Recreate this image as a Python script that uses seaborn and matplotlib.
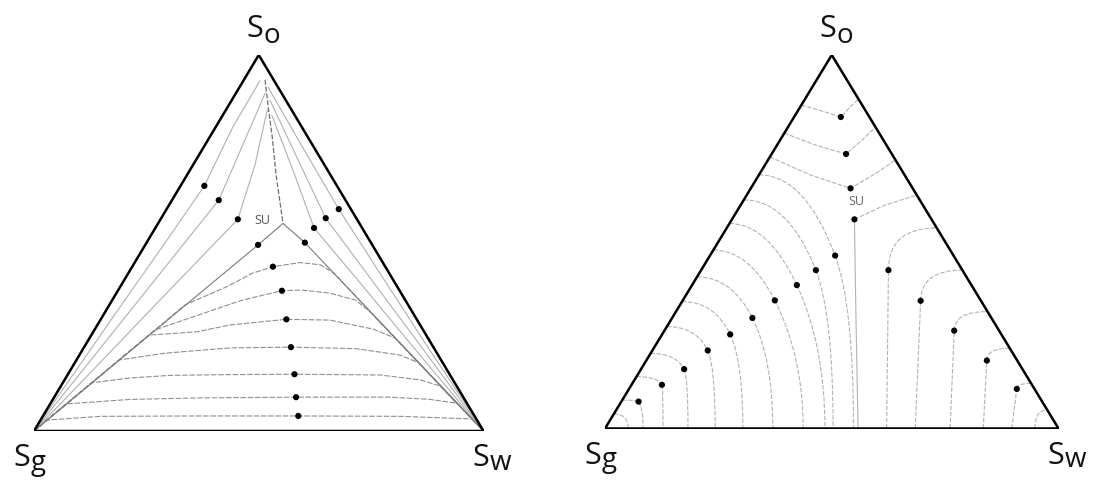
import numpy as np
import matplotlib
matplotlib.use("Agg")
import matplotlib.pyplot as plt
from matplotlib.path import Path
from matplotlib.patches import PathPatch
import seaborn as sns

sns.set_theme(style="white")
plt.rcParams["font.family"] = ["Open Sans", "DejaVu Sans"]

# Saturations: So = oil, Sw = water, Sg = 1 - So - Sw

# ---------------- Left diagram ----------------
left_su = (0.552, 0.278)

# dome-shaped isoperms between the Sg and Sw corners
left_dome_so = [
    [0, .335, .383, .420, .437, .448, .442, .420, 0],
    [0, .269, .301, .348, .373, .375, .367, .348, .317, 0],
    [0, .255, .264, .282, .297, .295, .271, .247, 0],
    [0, .189, .207, .221, .223, .219, .202, .181, 0],
    [0, .128, .141, .148, .150, .151, .149, .136, .120, 0],
    [0, .072, .084, .088, .090, .090, .084, .074, 0],
    [0, .029, .039, .040, .040, .039, .032, 0],
]
left_dome_sw = [
    [0, .168, .236, .277, .313, .368, .416, .457, 1],
    [0, .135, .197, .289, .365, .407, .473, .542, .589, 1],
    [0, .128, .231, .295, .413, .511, .619, .680, 1],
    [0, .095, .188, .326, .460, .607, .713, .766, 1],
    [0, .063, .143, .229, .361, .504, .695, .791, .843, 1],
    [0, .035, .172, .325, .538, .747, .839, .904, 1],
    [0, .014, .128, .349, .568, .795, .959, 1],
]

# isoperms from the So corner down to the Sg corner
left_upper_l_so = [
    [.931, .809, .652, .508, .348, .189, 0],
    [.899, .761, .614, .508, .348, .176, 0],
    [.854, .707, .563, .508, .348, .168, 0],
]
left_upper_l_sw = [
    [.037, .038, .053, .042, .028, .015, 0],
    [.065, .084, .104, .086, .059, .030, 0],
    [.092, .138, .172, .155, .106, .052, 0],
]

# isoperms from the So corner down to the Sw corner
left_upper_r_so = [
    [.915, .766, .590, .428, .215, 0],
    [.880, .721, .566, .402, .229, 0],
    [.840, .694, .540, .402, .215, 0],
]
left_upper_r_sw = [
    [.063, .209, .383, .551, .773, 1],
    [.085, .227, .366, .550, .744, 1],
    [.109, .229, .353, .519, .742, 1],
]

# ridge through the umbilic point, and the line up to the So corner
left_ridge_so = [0, .495, .552, .501, 0]
left_ridge_sw = [0, .251, .278, .352, 1]
left_top_so = [.934, .862, .782, .681, .552]
left_top_sw = [.047, .090, .139, .198, .278]

# marked points
left_pts_so = [.652, .614, .563, .495, .590, .566, .540, .501,
               .437, .373, .297, .223, .151, .090, .040]
left_pts_sw = [.053, .104, .172, .251, .383, .366, .353, .352,
               .313, .365, .413, .460, .504, .538, .568]

# ---------------- Right diagram ----------------
right_su = (0.607, 0.250)

# V-shaped isoperms around the So corner
right_top_so = [
    [.866, .850, .834, .861, .882],
    [.791, .759, .735, .772, .807],
    [.727, .679, .643, .687, .719],
    [.560, .598, .625],
]
right_top_sw = [
    [0, .054, .103, .110, .118],
    [0, .084, .164, .181, .193],
    [0, .113, .220, .259, .281],
    [.270, .318, .375],
]

# arcs around the Sg corner: So where they leave the Sg-So edge,
# the knee point, and Sw where they reach the Sg-Sw edge
gas_edge_so = [.039, .076, .139, .201, .273, .340, .406, .478, .549, .612, .679]
gas_knee_so = [None, .072, .117, .159, .209, .252, .296, .343, .384, .424, .463]
gas_knee_sw = [None, .038, .067, .095, .122, .150, .177, .203, .231, .253, .276]
gas_base_sw = [.051, .084, .128, .183, .243, .304, .370, .437, .485, .503, .548]

# arcs around the Sw corner: Sw at the Sg-Sw edge, the knee point,
# and So where they reach the So-Sw edge
water_base_sw = [.621, .684, .761, .834, .897, .948]
water_knee_so = [.424, .342, .262, .182, .106, None]
water_knee_sw = [.413, .525, .639, .751, .855, None]
water_edge_so = [.537, .424, .313, .215, .121, .050]

# vertical divide below the umbilic point
right_mid_so = [.560, .291, 0]
right_mid_sw = [.270, .408, .558]

# marked points on the So-corner curves
right_top_pts_so = [.834, .735, .643, .560]
right_top_pts_sw = [.103, .164, .220, .270]

corner_names = ["o", "g", "w"]
GREY_R = "#b2b2b2"


def tern(so, sw):
    so = np.asarray(so, dtype=float)
    sw = np.asarray(sw, dtype=float)
    return sw + so / 2.0, so


def curve(ax, so, sw, color="#a9a9a9", lw=0.8, dashes=None):
    x, y = tern(so, sw)
    sns.lineplot(x=x, y=y, sort=False, estimator=None, ax=ax, color=color,
                 lw=lw, legend=False)
    if dashes is not None:
        ax.lines[-1].set_dashes(dashes)


def quad(ax, p0, c, p1, color=GREY_R, lw=0.8, dashes=(4, 1.5)):
    path = Path([p0, c, p1], [Path.MOVETO, Path.CURVE3, Path.CURVE3])
    patch = PathPatch(path, fill=False, edgecolor=color, lw=lw,
                      linestyle=(0, dashes))
    ax.add_patch(patch)


def knee_arc(ax, edge_so, knee, base_sw):
    """Smooth arc from the Sg-So edge through the knee point to the base."""
    ex, ey = tern(edge_so, 0.0)
    bx, by = tern(0.0, base_sw)
    if knee[0] is None:
        quad(ax, (ex, ey), (bx, ey), (bx, by))
        return
    dx, dy = tern(knee[0], knee[1])
    tx, ty = bx - ex, by - ey
    s = (dy - ey) / ty
    c1 = (dx - s * tx, dy - s * ty)
    u = (bx - dx) / tx
    c2 = (dx + u * tx, dy + u * ty)
    quad(ax, (ex, ey), c1, (dx, dy))
    quad(ax, (dx, dy), c2, (bx, by))


def water_arc(ax, base_sw, knee, edge_so):
    """Vertical rise from the base, turning towards the So-Sw edge."""
    ex, ey = tern(edge_so, 1.0 - edge_so)
    bx, by = tern(0.0, base_sw)
    if knee[0] is None:
        quad(ax, (bx, by), (bx, ey), (ex, ey))
        return
    dx, dy = tern(knee[0], knee[1])
    quad(ax, (bx, by), ((bx + dx) / 2, (by + dy) / 2), (dx, dy))
    quad(ax, (dx, dy), (dx, ey), (ex, ey))


def frame(ax):
    x, y = tern([0, 1, 0, 0], [0, 0, 1, 0])
    sns.lineplot(x=x, y=y, sort=False, estimator=None, ax=ax, color="black",
                 lw=1.8, legend=False)
    ax.lines[-1].set_solid_joinstyle("miter")
    ax.set_xlim(0, 1)
    ax.set_ylim(0, 1)
    ax.axis("off")
    corners = [(0.5, 1.0), (0.0, 0.0), (1.0, 0.0)]
    # (S offset, subscript offset) in points
    offs = [((3, 13), (3.5, 8.5)), ((-3, -25.5), (-2.5, -28)),
            ((4, -25.5), (4.5, -28))]
    for name, xy, (so, sub) in zip(corner_names, corners, offs):
        ax.annotate("S", xy=xy, xycoords="data", xytext=so,
                    textcoords="offset points", ha="right", va="baseline",
                    fontsize=22, color="#111111", annotation_clip=False)
        ax.annotate(name, xy=xy, xycoords="data", xytext=sub,
                    textcoords="offset points", ha="left", va="baseline",
                    fontsize=20, color="#111111", annotation_clip=False)


def dots(ax, so, sw):
    so = [v for v in so if v is not None]
    sw = [v for v in sw if v is not None]
    x, y = tern(so, sw)
    sns.scatterplot(x=x, y=y, ax=ax, color="black", s=20, edgecolor="none",
                    legend=False, zorder=5)


fig = plt.figure(figsize=(10.97, 4.86), dpi=100)
W, H = 1097.0, 486.0
ax_l = fig.add_axes([34 / W, (H - 431) / H, 449.5 / W, 376 / H])
ax_r = fig.add_axes([605 / W, (H - 428.5) / H, 453.5 / W, 373.5 / H])

# left diagram
for so, sw in zip(left_dome_so, left_dome_sw):
    curve(ax_l, so, sw, color="#8f8f8f", lw=0.8, dashes=(5, 1.5))
for so, sw in zip(left_upper_l_so, left_upper_l_sw):
    curve(ax_l, so, sw, color="#b0b0b0")
for so, sw in zip(left_upper_r_so, left_upper_r_sw):
    curve(ax_l, so, sw, color="#b0b0b0")
curve(ax_l, left_ridge_so, left_ridge_sw, color="#7a7a7a", lw=0.8)
curve(ax_l, left_top_so, left_top_sw, color="#6e6e6e", lw=0.9, dashes=(4, 1.5))
dots(ax_l, left_pts_so, left_pts_sw)
sx, sy = tern([left_su[0] + 0.009], [left_su[1] - 0.05])
ax_l.text(sx[0], sy[0], "SU", fontsize=9, color="#555555", ha="center", va="center")
frame(ax_l)

# right diagram
for so, sw in zip(right_top_so, right_top_sw):
    curve(ax_r, so, sw, color=GREY_R, dashes=(4, 1.5))
for e, kso, ksw, b in zip(gas_edge_so, gas_knee_so, gas_knee_sw, gas_base_sw):
    knee_arc(ax_r, e, (kso, ksw), b)
for b, kso, ksw, e in zip(water_base_sw, water_knee_so, water_knee_sw, water_edge_so):
    water_arc(ax_r, b, (kso, ksw), e)
curve(ax_r, right_mid_so, right_mid_sw, color=GREY_R)
dots(ax_r, right_top_pts_so + gas_knee_so + water_knee_so,
     right_top_pts_sw + gas_knee_sw + water_knee_sw)
sx, sy = tern([right_su[0]], [right_su[1]])
ax_r.text(sx[0], sy[0], "SU", fontsize=9, color="#666666", ha="center", va="center")
frame(ax_r)

fig.savefig("out.png", dpi=100, facecolor="white")
